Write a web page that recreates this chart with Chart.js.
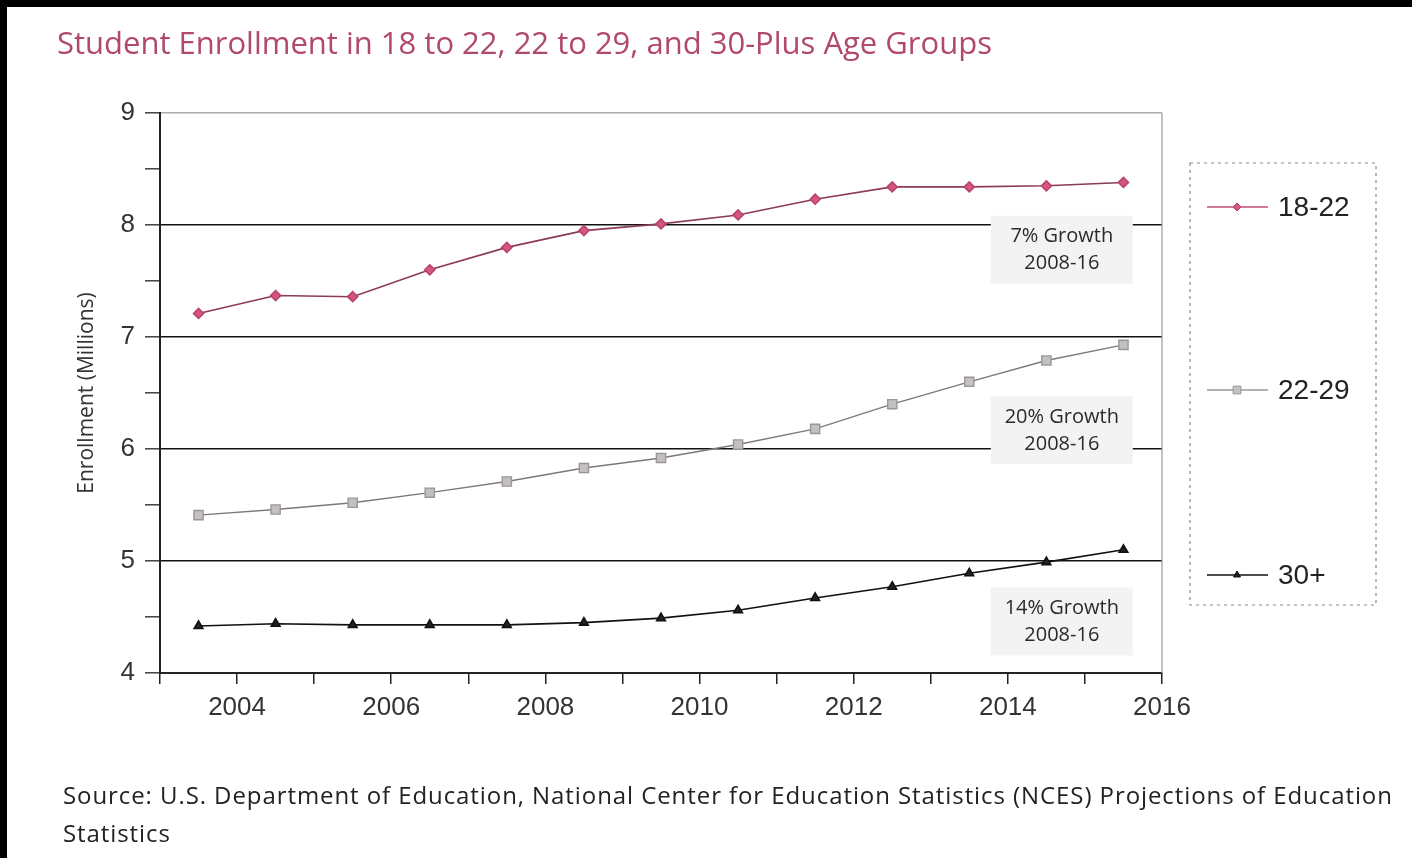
<!DOCTYPE html>
<html lang="en">
<head>
  <meta charset="UTF-8">
  <title>Student Enrollment by Age Group</title>
  <script src="https://cdn.jsdelivr.net/npm/chart.js"></script>
  <style>
    html, body { margin: 0; padding: 0; background: #fff; }
    .page { position: relative; width: 1412px; height: 858px; overflow: hidden; background: #fff; }
    .bar-top { position: absolute; left: 0; top: 0; width: 1412px; height: 7px; background: #000; }
    .bar-left { position: absolute; left: 0; top: 0; width: 7px; height: 858px; background: #000; }
    h1 {
      position: absolute; left: 57px; top: 21px; margin: 0;
      font: 31px/42px "Open Sans", sans-serif; letter-spacing: 0;
      color: #b0486f; font-weight: normal; white-space: nowrap;
    }
    .source {
      position: absolute; left: 63px; top: 776px; margin: 0;
      font: 24px/38px "Open Sans", sans-serif; color: #222; letter-spacing: 0.92px;
      white-space: nowrap;
    }
    canvas { position: absolute; left: 0; top: 0; }
  </style>
</head>
<body>
<div class="page">
  <canvas id="enrollChart" width="1412" height="858"></canvas>
  <div class="bar-top"></div>
  <div class="bar-left"></div>
  <h1>Student Enrollment in 18 to 22, 22 to 29, and 30-Plus Age Groups</h1>
  <p class="source">Source: U.S. Department of Education, National Center for Education Statistics (NCES) Projections of Education<br>Statistics</p>
</div>

<script>
  // years are plotted in the middle of each year slot
  const years = [2003.5, 2004.5, 2005.5, 2006.5, 2007.5, 2008.5, 2009.5, 2010.5, 2011.5, 2012.5, 2013.5, 2014.5, 2015.5];
  const age18to22 = [7.21, 7.37, 7.36, 7.60, 7.80, 7.95, 8.01, 8.09, 8.23, 8.34, 8.34, 8.35, 8.38];
  const age22to29 = [5.41, 5.46, 5.52, 5.61, 5.71, 5.83, 5.92, 6.04, 6.18, 6.40, 6.60, 6.79, 6.93];
  const age30plus = [4.42, 4.44, 4.43, 4.43, 4.43, 4.45, 4.49, 4.56, 4.67, 4.77, 4.89, 4.99, 5.10];
  const seriesNames = ['18-22', '22-29', '30+'];
  const growthNotes = ['7% Growth', '20% Growth', '14% Growth'];
  const growthPeriod = '2008-16';

  const pts = vals => years.map((x, i) => ({ x, y: vals[i] }));

  // growth boxes sit over the grid, under the lines
  const notesPlugin = {
    id: 'notes',
    beforeDatasetsDraw(chart) {
      const { ctx, scales: { x, y } } = chart;
      const centers = [7.78, 6.17, 4.46];
      ctx.save();
      growthNotes.forEach((txt, i) => {
        const cx = x.getPixelForValue(2014.7);
        const cy = y.getPixelForValue(centers[i]);
        ctx.fillStyle = '#f3f3f3';
        ctx.fillRect(cx - 71, cy - 34, 142, 68);
        ctx.fillStyle = '#2a2a2a';
        ctx.font = '20px "Open Sans", sans-serif';
        ctx.textAlign = 'center';
        ctx.textBaseline = 'middle';
        ctx.fillText(txt, cx, cy - 13);
        ctx.fillText(growthPeriod, cx, cy + 14);
      });
      ctx.restore();
    },
    afterDraw(chart) {
      const { ctx, chartArea: a } = chart;
      ctx.save();
      // right frame line
      ctx.strokeStyle = '#999';
      ctx.lineWidth = 1.2;
      ctx.beginPath();
      ctx.moveTo(a.right, a.top);
      ctx.lineTo(a.right, a.bottom);
      ctx.stroke();

      // legend
      ctx.setLineDash([3, 4]);
      ctx.strokeStyle = '#888';
      ctx.strokeRect(1190, 163, 186, 442);
      ctx.setLineDash([]);
      const rows = [207, 390, 575];
      chart.data.datasets.forEach((ds, i) => {
        const yy = rows[i];
        ctx.strokeStyle = ds.legendLine;
        ctx.lineWidth = 1.5;
        ctx.beginPath();
        ctx.moveTo(1207, yy);
        ctx.lineTo(1268, yy);
        ctx.stroke();
        ctx.fillStyle = ds.pointBackgroundColor;
        ctx.strokeStyle = ds.pointBorderColor;
        ctx.lineWidth = 1;
        Chart.helpers.drawPoint(ctx, { pointStyle: ds.pointStyle, radius: ds.pointRadius - 1, rotation: 0, borderWidth: 1 }, 1237, yy);
        ctx.fillStyle = '#222';
        ctx.font = '28px "Liberation Sans", Arial, sans-serif';
        ctx.textAlign = 'left';
        ctx.textBaseline = 'middle';
        ctx.fillText(ds.label, 1278, yy + 1);
      });
      ctx.restore();
    }
  };

  new Chart(document.getElementById('enrollChart'), {
    type: 'line',
    data: {
      datasets: [
        {
          label: seriesNames[0], data: pts(age18to22),
          borderColor: '#8c3a58', borderWidth: 1.6, legendLine: '#c24f77',
          pointStyle: 'rectRot', pointRadius: 5,
          pointBackgroundColor: '#d4567f', pointBorderColor: '#b84468'
        },
        {
          label: seriesNames[1], data: pts(age22to29),
          borderColor: '#7a7a7a', borderWidth: 1.4, legendLine: '#999',
          pointStyle: 'rect', pointRadius: 6.5,
          pointBackgroundColor: '#c4c0c2', pointBorderColor: '#9a9698'
        },
        {
          label: seriesNames[2], data: pts(age30plus),
          borderColor: '#111', borderWidth: 1.6, legendLine: '#111',
          pointStyle: 'triangle', pointRadius: 5,
          pointBackgroundColor: '#222', pointBorderColor: '#111'
        }
      ]
    },
    options: {
      responsive: false,
      animation: false,
      layout: { padding: { top: 113, right: 250, bottom: 125, left: 60 } },
      plugins: { legend: { display: false }, tooltip: { enabled: false } },
      scales: {
        x: {
          type: 'linear', min: 2003, max: 2016,
          afterFit: s => { s.height = 60; },
          ticks: {
            stepSize: 1, padding: 8, color: '#333',
            font: { size: 26, family: '"Liberation Sans", Arial, sans-serif' },
            callback: v => (v % 2 === 0 ? String(v) : '')
          },
          grid: { drawOnChartArea: false, tickLength: 11, color: '#222', lineWidth: 1.5 },
          border: { color: '#222', width: 2 }
        },
        y: {
          min: 4, max: 9,
          afterFit: s => { s.width = 100; },
          ticks: {
            stepSize: 0.5, padding: 10, color: '#333',
            font: { size: 26, family: '"Liberation Sans", Arial, sans-serif' },
            callback: v => (Number.isInteger(v) ? String(v) : '')
          },
          grid: {
            tickLength: 15, lineWidth: 1.6, tickColor: '#333', tickWidth: 1.4,
            color: c => (c.tick.value === 9 ? '#aaa' : Number.isInteger(c.tick.value) ? '#111' : 'rgba(0,0,0,0)')
          },
          border: { color: '#222', width: 2 },
          title: {
            display: true, text: 'Enrollment (Millions)', color: '#333',
            font: { size: 21, family: '"Open Sans", sans-serif' },
            padding: { top: 14, bottom: 0 }
          }
        }
      }
    },
    plugins: [notesPlugin]
  });
</script>
</body>
</html>
